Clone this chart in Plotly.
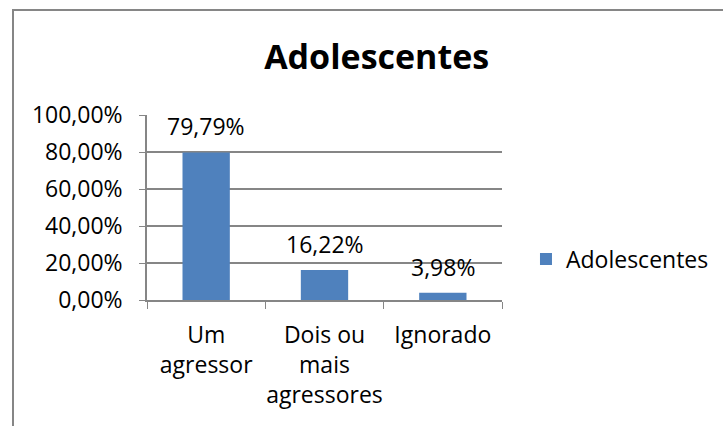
import plotly.graph_objects as go

# dados
categorias = ["Um agressor", "Dois ou mais agressores", "Ignorado"]
rotulos_x = ["Um<br>agressor", "Dois ou<br>mais<br>agressores", "Ignorado"]
valores = [0.7979, 0.1622, 0.0398]
serie = "Adolescentes"

cor_barra = "#4F81BD"
cinza = "#868686"
fonte = "Open Sans"

fig = go.Figure()
fig.add_trace(go.Bar(x=categorias, y=valores, name=serie,
                     marker=dict(color=cor_barra, line=dict(width=0)),
                     width=0.4, hoverinfo="skip"))

# rotulos de dados acima das barras
for c, v in zip(categorias, valores):
    txt = f"{v*100:.2f}%".replace(".", ",")
    fig.add_annotation(x=c, y=v, text=txt, showarrow=False,
                       yanchor="middle", yshift=26,
                       font=dict(family=fonte, size=23, color="black"))

fig.update_layout(
    width=723, height=426,
    margin=dict(l=147, r=221, t=115, b=126),
    paper_bgcolor="white", plot_bgcolor="white",
    separators=",.",
    font=dict(family=fonte, size=23, color="black"),
    title=dict(text="<b>Adolescentes</b>", x=0.521, xref="container", xanchor="center",
               y=0.866, yref="container", yanchor="middle",
               font=dict(family=fonte, size=34, color="black")),
    showlegend=True,
    legend=dict(x=0.7275, xref="container", xanchor="left",
                y=0.392, yref="container", yanchor="middle",
                font=dict(family=fonte, size=23), bgcolor="rgba(0,0,0,0)"),
)

fig.update_xaxes(type="category", tickvals=categorias, ticktext=rotulos_x,
                 tickson="boundaries", ticks="outside", ticklen=7, tickcolor=cinza,
                 tickangle=0, automargin=False, ticklabelstandoff=14,
                 showline=True, linecolor=cinza, linewidth=1.5, showgrid=False,
                 range=[-0.5, 2.5], fixedrange=True)
fig.update_yaxes(range=[0, 1], dtick=0.2, tickformat=".2%",
                 ticks="outside", ticklen=6, tickcolor=cinza, automargin=False,
                 showline=True, linecolor=cinza, linewidth=1.5,
                 showgrid=True, gridcolor=cinza, gridwidth=1.5,
                 zeroline=False, ticklabelstandoff=12, fixedrange=True)

# moldura do grafico
fig.add_shape(type="rect", xref="paper", yref="paper",
              x0=(13 - 147) / 355, x1=2.0, y0=-2.0, y1=(300 - 10) / 185,
              line=dict(color=cinza, width=2), fillcolor="rgba(0,0,0,0)", layer="below")

fig.write_html("out.html", config={"displayModeBar": False},
               post_script="document.body.style.margin='0px';")
